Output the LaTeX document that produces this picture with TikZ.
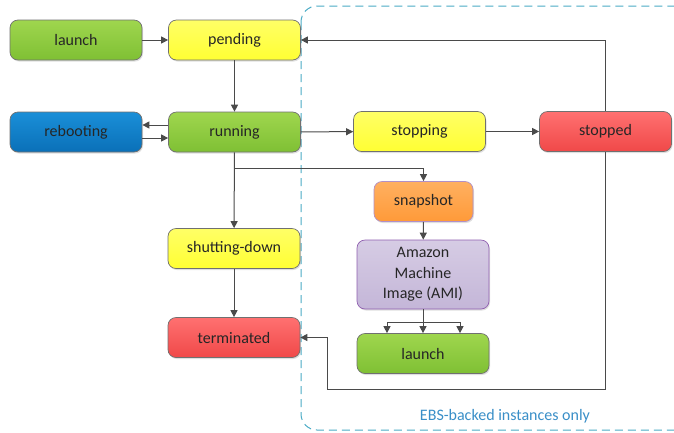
\documentclass[tikz,border=0pt]{standalone}
\usepackage{fontspec}
\setmainfont{Carlito}
\usetikzlibrary{arrows.meta,shadows}
\definecolor{gtop}{HTML}{9FD64E}\definecolor{gbot}{HTML}{7FC034}
\definecolor{ytop}{HTML}{FFFF66}\definecolor{ybot}{HTML}{FFFF33}
\definecolor{btop}{HTML}{1A8FD8}\definecolor{bbot}{HTML}{0A70B8}
\definecolor{rtop}{HTML}{FF7070}\definecolor{rbot}{HTML}{F04848}
\definecolor{otop}{HTML}{FFB060}\definecolor{obot}{HTML}{FF9A38}
\definecolor{ptop}{HTML}{D6CCE4}\definecolor{pbot}{HTML}{C4B6D8}
\definecolor{pedge}{HTML}{9060B0}
\definecolor{edgegray}{HTML}{707070}
\definecolor{linegray}{HTML}{4A4A4A}
\definecolor{ebsblue}{HTML}{4BACC6}
\definecolor{ebstext}{HTML}{3A8FC8}
\tikzset{
  state/.style={rounded corners=8pt, draw=edgegray, line width=0.7pt, minimum width=132pt, minimum height=40pt, align=center, font=\fontsize{16}{20.5}\selectfont, text=black!85, drop shadow={shadow xshift=1pt, shadow yshift=-1.5pt, opacity=0.25}},
  green/.style={state, top color=gtop, bottom color=gbot},
  yellow/.style={state, top color=ytop, bottom color=ybot},
  blue/.style={state, top color=btop, bottom color=bbot},
  red/.style={state, top color=rtop, bottom color=rbot},
  orange/.style={state, top color=otop, bottom color=obot, minimum width=99pt, draw=pedge!70},
  lav/.style={state, top color=ptop, bottom color=pbot, draw=pedge, minimum height=69pt, inner sep=2pt},
  conn/.style={draw=linegray, line width=1pt, -{Triangle[length=7pt,width=7pt]}},
  plain/.style={draw=linegray, line width=1pt},
}
\begin{document}
\begin{tikzpicture}[x=1pt,y=1pt]
\useasboundingbox (0,0) rectangle (674,-432);
\fill[white] (0,0) rectangle (674,-432);
% dashed region
\begin{scope}
\clip (0,0) rectangle (674,-432);
\draw[ebsblue, line width=1pt, dash pattern=on 8pt off 5pt, rounded corners=16pt] (301,-6) rectangle (700,-430);
\end{scope}
\node[ebstext, font=\fontsize{16}{20}\selectfont] (ebs) at (505,-416) {EBS-backed instances only};
% nodes
\node[green] (launch) at (76,-40) {launch};
\node[yellow] (pending) at (234.5,-40) {pending};
\node[blue] (reboot) at (76,-132) {rebooting};
\node[green] (running) at (234.5,-132) {running};
\node[yellow] (stopping) at (419.5,-131.5) {stopping};
\node[red] (stopped) at (605.5,-131.5) {stopped};
\node[orange] (snap) at (423.5,-201.5) {snapshot};
\node[lav] (ami) at (423,-274.5) {Amazon\\Machine\\Image (AMI)};
\node[yellow] (shut) at (234,-248.5) {shutting-down};
\node[red] (term) at (234,-337.5) {terminated};
\node[green] (launch2) at (423,-353.5) {launch};
% connectors
\draw[conn] (launch) -- (pending);
\draw[conn] (pending) -- (running);
\draw[conn] ([yshift=7pt]running.west) -- ([yshift=7pt]reboot.east);
\draw[conn] ([yshift=-6pt]reboot.east) -- ([yshift=-6pt]running.west);
\draw[conn] (running) -- (stopping);
\draw[conn] (stopping) -- (stopped);
\draw[conn] (stopped.north) |- (pending.east);
\coordinate (ret) at (327,-389);
\draw[conn] (stopped.south) |- (ret) |- (term.east);
\draw[conn] (running) -- (shut);
\coordinate (br) at (234.5,-168);
\draw[conn] (br) -| (snap.north);
\draw[conn] (shut) -- (term);
\draw[conn] (snap) -- (ami);
\coordinate (fork) at (423,-322);
\draw[conn] (ami.south) -- (launch2.north);
\draw[plain] ([xshift=-36pt]fork) -- ([xshift=37pt]fork);
\draw[conn] ([xshift=-36pt]fork) -- ([xshift=-36pt]launch2.north);
\draw[conn] ([xshift=37pt]fork) -- ([xshift=37pt]launch2.north);
\end{tikzpicture}
\end{document}
